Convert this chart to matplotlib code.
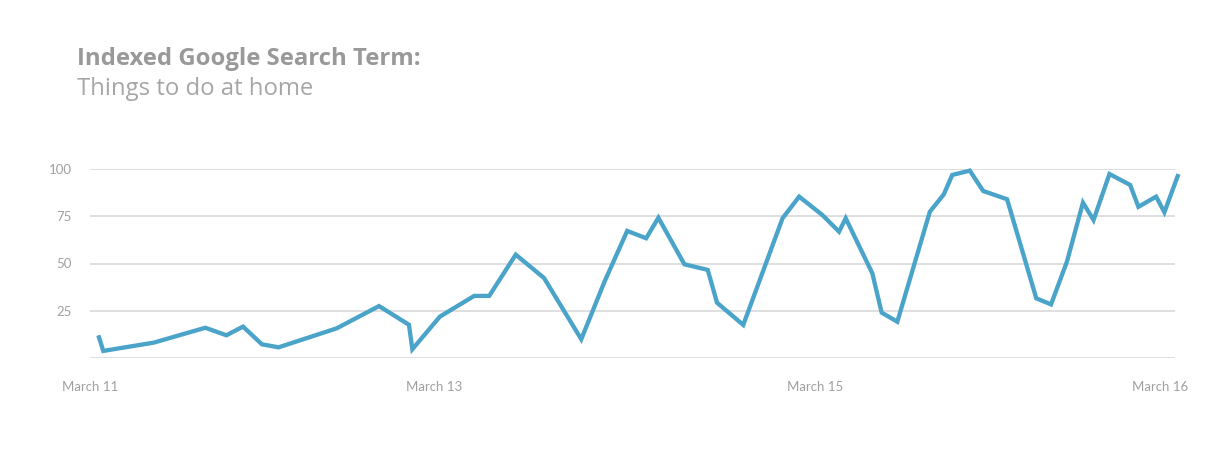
import matplotlib.pyplot as plt

plt.rcParams['font.family'] = ['Lato', 'DejaVu Sans']

# hours since start of March 11 window
hours = [0, 0.48, 6.1, 11.83, 14.17, 16.02, 18.13, 19.98, 26.45, 31.15,
         34.48, 34.86, 37.92, 41.74, 43.41, 46.36, 49.51, 53.65, 56.24, 58.76,
         60.87, 62.23, 65.12, 67.72, 68.75, 71.67, 76.04, 77.89, 80.48, 82.33,
         83.07, 86.03, 87.07, 88.81, 92.43, 93.98, 94.92, 96.87, 98.36, 101.02,
         104.27, 105.91, 107.68, 109.46, 110.64, 112.41, 114.71, 115.63, 117.6,
         118.52, 120.0]
index = [10.8, 3.6, 8.0, 15.9, 11.9, 16.5, 7.1, 5.5, 15.6, 27.4,
         17.5, 4.5, 21.8, 32.8, 32.8, 54.7, 42.3, 9.8, 40.4, 67.3,
         63.4, 74.3, 49.6, 46.6, 29.2, 17.4, 74.0, 85.5, 75.7, 66.9,
         74.0, 44.8, 23.9, 19.1, 77.5, 86.7, 97.0, 99.3, 88.5, 84.1,
         31.5, 28.3, 51.0, 82.3, 73.1, 97.5, 91.7, 80.1, 85.5, 77.2,
         96.4]

xtick_pos = [-1.0, 37.3, 79.7, 118.0]
xtick_labels = ["March 11", "March 13", "March 15", "March 16"]
ytick_pos = [0, 25, 50, 75, 100]
ytick_labels = ["", "25", "50", "75", "100"]

W, H = 1230, 459
fig = plt.figure(figsize=(W / 100, H / 100), dpi=100)
ax = fig.add_axes([90 / W, (H - 357.7) / H, (1175 - 90) / W, (357.7 - 169.3) / H])

ax.plot(hours, index, color='#4aa3c9', lw=3.1, solid_joinstyle='miter',
        clip_on=False, zorder=3)

ax.set_xlim(-0.74, 119.7)
ax.set_ylim(0, 100)
ax.set_yticks(ytick_pos, ytick_labels)
ax.set_xticks(xtick_pos, xtick_labels)
ax.grid(axis='y', color='#dcdcdc', lw=1.3)
ax.grid(axis='x', visible=False)
for s in ax.spines.values():
    s.set_visible(False)
ax.tick_params(axis='both', length=0, labelsize=9.5, labelcolor='#a0a0a0')
ax.tick_params(axis='y', pad=13)
ax.tick_params(axis='x', pad=17)

fig.text(77 / W, (H - 65) / H, "Indexed Google Search Term:", fontsize=17.2,
         fontweight='bold', color='#999999', va='baseline',
         family=['Open Sans', 'DejaVu Sans'])
fig.text(77 / W, (H - 95) / H, "Things to do at home", fontsize=17.2,
         color='#a6a6a6', va='baseline', family=['Open Sans', 'DejaVu Sans'])

fig.savefig("out.png", dpi=100, facecolor='white')
